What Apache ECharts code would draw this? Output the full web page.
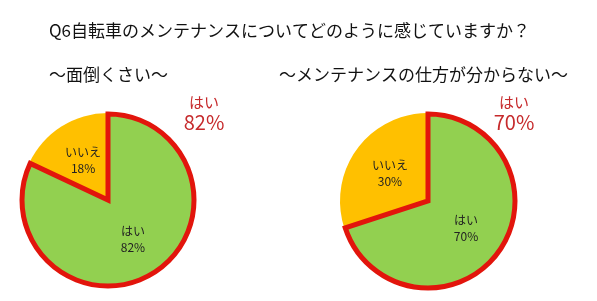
<!DOCTYPE html>
<html>
<head>
<meta charset="utf-8">
<script src="https://cdn.jsdelivr.net/npm/echarts@6/dist/echarts.min.js"></script>
<style>html,body{margin:0;padding:0;background:#fff;}#c{width:597px;height:301px;}</style>
</head>
<body>
<div id="c"></div>
<script>
const mainTitle = 'Q6自転車のメンテナンスについてどのように感じていますか？';
const subTitles = ['～面倒くさい～', '～メンテナンスの仕方が分からない～'];
const categories = ['はい', 'いいえ'];
const pieA = [82, 18];
const pieB = [70, 30];

const FONT = '"Noto Sans CJK JP", sans-serif';
const GREEN = '#92D050', ORANGE = '#FFC000', RED = '#E2150C', LABELRED = '#C62A2C';

function pieData(vals) {
  return categories.map((c, i) => ({ name: c, value: vals[i] }));
}
function fillSeries(vals, center, r) {
  return {
    type: 'pie', center: center, radius: r, startAngle: 90, clockwise: true,
    silent: true, animation: false,
    label: {
      show: true, position: 'inside', formatter: '{b}\n{d}%',
      fontFamily: FONT, fontSize: 12, lineHeight: 16, color: '#222'
    },
    labelLine: { show: false },
    data: pieData(vals).map((d, i) => Object.assign(d, {
      itemStyle: { color: i === 0 ? GREEN : ORANGE, borderWidth: 0 }
    }))
  };
}
function borderSeries(vals, center, r) {
  return {
    type: 'pie', center: center, radius: r, startAngle: 90, clockwise: true,
    silent: true, animation: false, z: 3,
    label: { show: false }, labelLine: { show: false },
    data: pieData(vals).map((d, i) => Object.assign(d, {
      itemStyle: i === 0
        ? { color: 'rgba(0,0,0,0)', borderColor: RED, borderWidth: 5, borderJoin: 'miter' }
        : { color: 'rgba(0,0,0,0)', borderWidth: 0 }
    }))
  };
}
function redLabel(vals, x, y) {
  return {
    type: 'text', x: x, y: y, z: 10,
    style: {
      text: '{a|' + categories[0] + '}\n{b|' + Math.round(vals[0] / (vals[0] + vals[1]) * 100) + '%}',
      align: 'center', verticalAlign: 'top',
      rich: {
        a: { fontFamily: FONT, fontSize: 15, lineHeight: 17, fill: LABELRED, align: 'center' },
        b: { fontFamily: FONT, fontSize: 20, lineHeight: 22, fill: LABELRED, align: 'center' }
      }
    }
  };
}

const chart = echarts.init(document.getElementById('c'), null, { renderer: 'canvas' });
chart.setOption({
  backgroundColor: '#fff',
  animation: false,
  title: [
    { text: mainTitle, left: 44, top: 17, textStyle: { fontFamily: FONT, fontSize: 17, fontWeight: 'normal', color: '#111' } },
    { text: subTitles[0], left: 44, top: 61, textStyle: { fontFamily: FONT, fontSize: 17, fontWeight: 'normal', color: '#111' } },
    { text: subTitles[1], left: 274, top: 61, textStyle: { fontFamily: FONT, fontSize: 17, fontWeight: 'normal', color: '#111' } }
  ],
  series: [
    fillSeries(pieA, [108, 200], 87),
    borderSeries(pieA, [108, 200], 86),
    fillSeries(pieB, [428, 201], 88),
    borderSeries(pieB, [428, 201], 87)
  ],
  graphic: [
    redLabel(pieA, 204, 94),
    redLabel(pieB, 514, 94)
  ]
});
</script>
</body>
</html>
